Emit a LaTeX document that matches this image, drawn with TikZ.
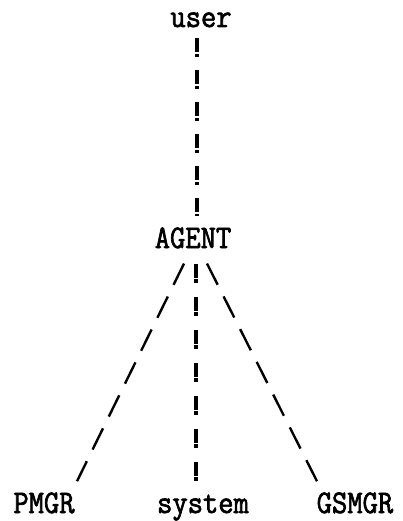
\documentclass[tikz,border=0pt]{standalone}
\usepackage{fontspec}
\newfontfamily\typer{Latin Modern Mono}[FakeBold=2,FakeStretch=0.9]

\begin{document}
\begin{tikzpicture}[x=1pt,y=-1pt,
    lbl/.style={font=\fontsize{33}{33}\selectfont\typer, inner sep=0pt, anchor=base},
    bang/.style={line width=3.2pt, dash pattern=on 14pt off 1.5pt on 3.5pt off #1},
    bang/.default=13pt,
    slash/.style={line width=2.4pt, dash pattern=on 23.7pt off 13pt}]

            \useasboundingbox (0,0) rectangle (403,521);

            \node[lbl] (user) at (201,27) {user};
            \node[lbl] (agent) at (193,248) {AGENT};
            \node[lbl] (pmgr) at (44,513) {PMGR};
            \node[lbl] (system) at (203,513) {system};
            \node[lbl] (gsmgr) at (355,513) {GSMGR};

            % user down to AGENT
            \draw[bang] ([xshift=-4pt,yshift=-11pt]user.south)
            -- ([xshift=4pt,yshift=11pt]agent.north);

            % AGENT fanning out to the three below
            \draw[slash] ([xshift=-9pt,yshift=-15pt]agent.south)
            -- ([xshift=33pt,yshift=11pt]pmgr.north);
            \draw[bang=14pt] ([xshift=3pt,yshift=-15pt]agent.south)
            -- ([xshift=-7pt,yshift=11pt]system.north);
            \draw[slash] ([xshift=14pt,yshift=-15pt]agent.south)
            -- ([xshift=-38pt,yshift=11pt]gsmgr.north);
        \end{tikzpicture}
\end{document}
